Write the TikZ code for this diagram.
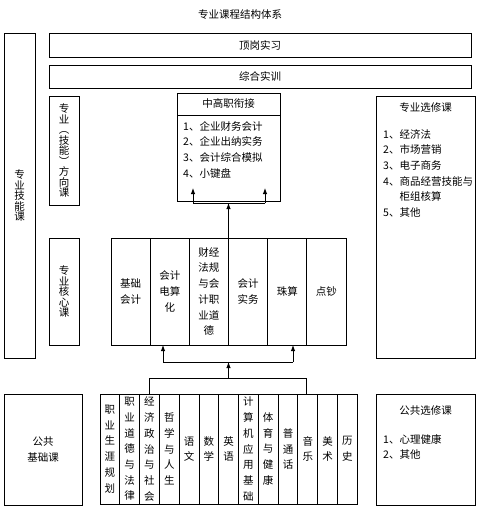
\documentclass[tikz,border=0pt]{standalone}
\usepackage{fontspec}
\setmainfont{Noto Sans CJK SC}
\usetikzlibrary{arrows.meta, positioning}

\begin{document}
\begin{tikzpicture}[
    x=1pt, y=-1pt,
    box/.style={rectangle, draw, line width=0.9pt, inner sep=1pt, outer sep=0pt, align=center, anchor=north west, font=\fontsize{10.5}{15.7}\selectfont},
    tight/.style={box, font=\fontsize{10.5}{10.5}\selectfont},
    txt/.style={align=left, inner sep=0pt, font=\fontsize{10.5}{15.7}\selectfont},
    arrow/.style={->, >={Latex[length=6pt,width=4.5pt]}, line width=0.9pt},
    wire/.style={line width=0.9pt}
]
\useasboundingbox (0,0) rectangle (482,509);
\node[txt] (title) at (240,15) {专业课程结构体系};
% left column
\node[tight, minimum width=31, minimum height=325] (skill) at (4,33) {专\\业\\技\\能\\课};
\node[tight, minimum width=30, minimum height=109] (direct) at (49,96) {专\\业\\︵\\技\\能\\︶\\方\\向\\课};
\node[tight, minimum width=30, minimum height=107] (coretag) at (49,238) {专\\业\\核\\心\\课};
% practice
\node[box, minimum width=422, minimum height=24] (intern) at (49,33) {顶岗实习};
\node[box, minimum width=422, minimum height=23] (train) at (49,65) {综合实训};
% link courses
\node[box, minimum width=103, minimum height=22] (linkhead) at (177,93) {中高职衔接};
\node[box, minimum width=103, minimum height=86] (link) at (177,115) {};
\node[txt, anchor=north west] (linklist) at (183,121) {1、企业财务会计\\2、企业出纳实务\\3、会计综合模拟\\4、小键盘};
% core courses
\foreach \name [count=\i] in {{基础\\会计}, {会计\\电算\\化}, {财经\\法规\\与会\\计职\\业道\\德}, {会计\\实务}, 珠算, 点钞}
  \node[box, minimum width=39.17, minimum height=107] (core\i) at ({111+(\i-1)*39.17},238) {\name};
% electives
\node[box, minimum width=99, minimum height=262] (elect) at (376,96) {};
\node[txt] (electhead) at (425.5,108) {专业选修课};
\node[txt, anchor=north west] (electlist) at (383,129) {1、经济法\\2、市场营销\\3、电子商务\\4、商品经营技能与\\\phantom{4、}柜组核算\\5、其他};
% public courses
\node[box, minimum width=78, minimum height=111] (pubtag) at (4,394) {公共\\基础课};
\foreach \name [count=\i] in {{职\\业\\生\\涯\\规\\划}, {职\\业\\道\\德\\与\\法\\律}, {经\\济\\政\\治\\与\\社\\会}, {哲\\学\\与\\人\\生}, {语\\文}, {数\\学}, {英\\语}, {计\\算\\机\\应\\用\\基\\础}, {体\\育\\与\\健\\康}, {普\\通\\话}, {音\\乐}, {美\\术}, {历\\史}}
  \node[box, minimum width=19.79, minimum height=110] (pub\i) at ({100+(\i-1)*19.79},394) {\name};
\node[box, minimum width=99, minimum height=111] (pubelect) at (376,394) {};
\node[txt] (pubelecthead) at (425.5,411) {公共选修课};
\node[txt, anchor=north west] (pubelectlist) at (383,434) {1、心理健康\\2、其他};
% connectors
\coordinate (baseL) at (149,378);
\coordinate (baseR) at (306,378);
\coordinate (baseM) at (228.5,378);
\coordinate (lowL) at (163,362);
\coordinate (lowR) at (293,362);
\coordinate (lowfork) at (228.5,362);
\coordinate (upL) at (193,203);
\coordinate (upR) at (265,203);
\coordinate (upfork) at (228.5,203);
\coordinate (upLtip) at (193,188);
\coordinate (upRtip) at (265,188);
\draw[wire] (baseL |- pub3.north) -- (baseL) -- (baseR) -- (baseR |- pub11.north);
\draw[arrow] (baseM) -- (lowfork);
\draw[wire] (lowL) -- (lowR);
\draw[arrow] (lowL) -- (lowL |- core2.south);
\draw[arrow] (lowR) -- (lowR |- core5.south);
\draw[arrow] (core3.north east) -- (upfork);
\draw[wire] (upL) -- (upR);
\draw[arrow] (upL) -- (upLtip);
\draw[arrow] (upR) -- (upRtip);
\end{tikzpicture}
\end{document}
